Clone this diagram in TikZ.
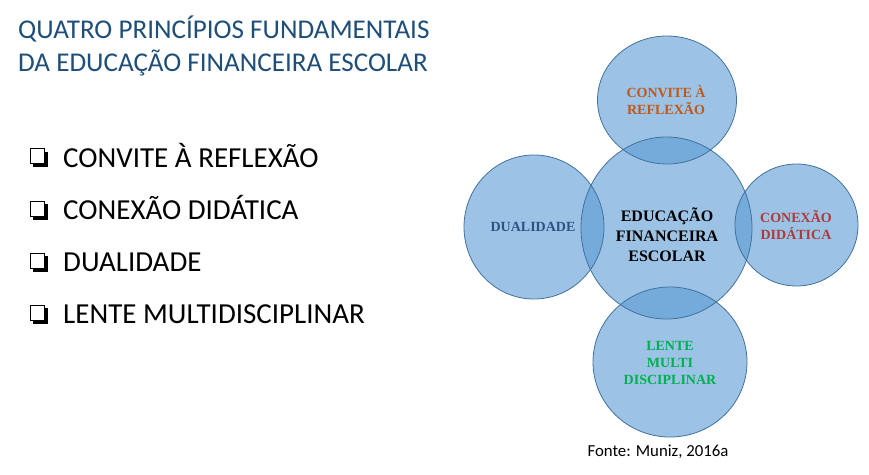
\documentclass[tikz,border=0pt]{standalone}
\usepackage{fontspec}
\setmainfont{Carlito}
\newfontfamily\timesf{Liberation Serif}
\usetikzlibrary{shapes.geometric}
\definecolor{titleblue}{HTML}{1F4E79}
\definecolor{circfill}{HTML}{5B9BD5}
\definecolor{circedge}{HTML}{41719C}
\definecolor{cbrown}{HTML}{C0581A}
\definecolor{cred}{HTML}{AE3A3D}
\definecolor{cblue}{HTML}{2D5385}
\definecolor{cgreen}{HTML}{00B050}
\tikzset{
  disc/.style={ellipse, inner sep=0pt, fill=circfill, fill opacity=0.6, draw=none},
  rim/.style={ellipse, inner sep=0pt, draw=circedge, line width=0.8pt, fill=none},
  ctext/.style={font=\timesf\bfseries\fontsize{14}{17}\selectfont, align=center, inner sep=0pt},
  listitem/.style={anchor=base west, font=\fontsize{29}{33}\selectfont, inner sep=0pt},
  titletext/.style={anchor=north west, font=\fontsize{27.1}{33}\selectfont, text=titleblue, align=left, inner sep=0pt},
}
\begin{document}
\begin{tikzpicture}[x=1pt,y=-1pt]
\useasboundingbox[fill=white] (0,0) rectangle (869,474);
% title
\node[titletext] (title) at (18,15.5) {QUATRO PRINCÍPIOS FUNDAMENTAIS\\DA EDUCAÇÃO FINANCEIRA ESCOLAR};
% list
\foreach \y/\t/\n in {167/CONVITE À REFLEXÃO/a, 219.5/CONEXÃO DIDÁTICA/b, 271.5/DUALIDADE/c, 323.5/LENTE MULTIDISCIPLINAR/d}{
  \fill[black] (44.5,151.5+\y-167) rectangle (48,167+\y-167);
  \fill[black] (33,163.5+\y-167) rectangle (48,167+\y-167);
  \draw[black, line width=1pt] (30.5,148.5+\y-167) rectangle (44.5,163.5+\y-167);
  \node[listitem] (item\n) at (63,\y) {\t};
}
% circles
\foreach \n/\cx/\cy/\rx/\ry in {top/667/100/69.5/64, mid/666.5/228/85.5/91, lft/534/227/70/72, rgt/796.5/225/61.5/61, bot/670/362/77/75}{
  \node[disc, minimum width=2*\rx pt, minimum height=2*\ry pt] (d\n) at (\cx,\cy) {};
}
\foreach \n/\cx/\cy/\rx/\ry in {top/667/100/69.5/64, mid/666.5/228/85.5/91, lft/534/227/70/72, rgt/796.5/225/61.5/61, bot/670/362/77/75}{
  \node[rim, minimum width=2*\rx pt, minimum height=2*\ry pt] (r\n) at (\cx,\cy) {};
}
% circle texts
\node[ctext, text=cbrown] (ttop) at (666,100.5) {CONVITE À\\REFLEXÃO};
\node[ctext, text=black, font=\timesf\bfseries\fontsize{16}{20}\selectfont] (tmid) at (667,235) {EDUCAÇÃO\\FINANCEIRA\\ESCOLAR};
\node[ctext, text=cblue] (tlft) at (533,227) {DUALIDADE};
\node[ctext, text=cred] (trgt) at (796,225) {CONEXÃO\\DIDÁTICA};
\node[ctext, text=cgreen] (tbot) at (670,363) {LENTE\\MULTI\\DISCIPLINAR};
% source
\node[font=\fontsize{16.8}{20}\selectfont, inner sep=0pt] (src) at (658,452) {Fonte: Muniz, 2016a};
\end{tikzpicture}
\end{document}
